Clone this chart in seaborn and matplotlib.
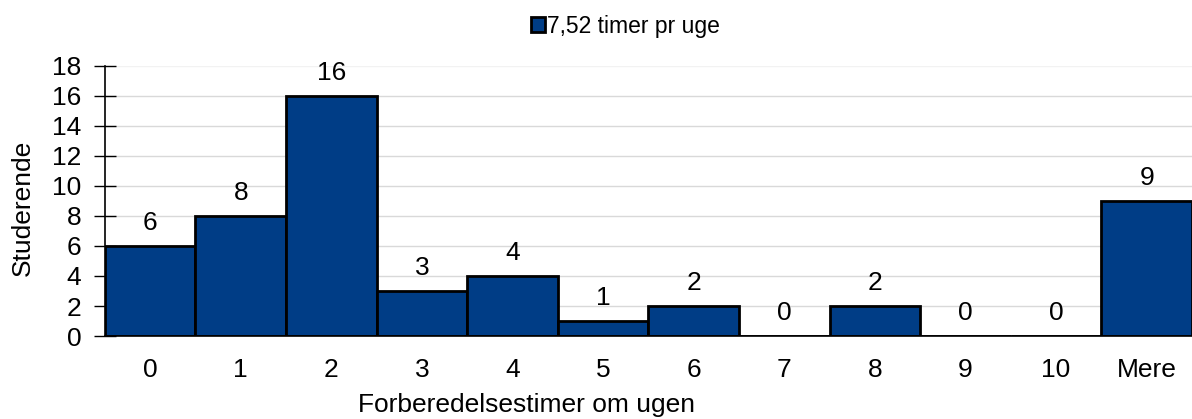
import numpy as np
import pandas as pd
import matplotlib
matplotlib.use("Agg")
import matplotlib.pyplot as plt
import seaborn as sns

categories = ["0", "1", "2", "3", "4", "5", "6", "7", "8", "9", "10", "Mere"]
students = [6, 8, 16, 3, 4, 1, 2, 0, 2, 0, 0, 9]
series_name = "7,52 timer pr uge"
yticks = list(range(0, 20, 2))

df = pd.DataFrame({"timer": categories, "studerende": students})

sns.set_theme(style="white")
plt.rcParams["font.family"] = ["Liberation Sans", "DejaVu Sans"]
plt.rcParams.update({"text.color": "black", "axes.labelcolor": "black",
                     "xtick.color": "black", "ytick.color": "black"})

fig = plt.figure(figsize=(11.92, 4.19), dpi=100)
ax = fig.add_axes([0.088, 0.198, 0.912, 0.645])

sns.barplot(data=df, x="timer", y="studerende", color="#003d86", width=1.0,
            edgecolor="black", linewidth=2, saturation=1, label=series_name, ax=ax)

ax.set_ylim(0, 18)
ax.set_xlim(-0.5, 11.5)
ax.set_yticks(yticks)
ax.yaxis.grid(True, color="#d9d9d9", linewidth=1)
ax.get_ygridlines()[-1].set_color("#f2f2f2")  # top line is faint in the original
ax.set_axisbelow(True)

for p, v in zip(ax.patches, students):
    ax.annotate(str(v), (p.get_x() + p.get_width() / 2, v), xytext=(0, 8),
                textcoords="offset points", ha="center", va="bottom", fontsize=19)

for s in ["top", "right"]:
    ax.spines[s].set_visible(False)
ax.spines["left"].set_color("black")
ax.spines["bottom"].set_color("black")
ax.spines["left"].set_linewidth(1.2)
ax.spines["bottom"].set_linewidth(1.2)

ax.tick_params(axis="y", direction="inout", length=16, width=1,
               labelsize=19, pad=9, left=True)
ax.tick_params(axis="x", length=0, labelsize=19, pad=16)

ax.set_xlabel("Forberedelsestimer om ugen", fontsize=19)
ax.set_ylabel("Studerende", fontsize=19)
ax.xaxis.set_label_coords(0.388, -0.21)
ax.yaxis.set_label_coords(-0.064, 0.474)

if ax.get_legend():
    ax.get_legend().remove()
handles, labels = ax.get_legend_handles_labels()
fig.legend(handles[:1], labels[:1], loc="upper center", bbox_to_anchor=(0.525, 1.02),
           frameon=False, fontsize=16.5, handlelength=0.6, handleheight=0.6,
           handletextpad=0.1, borderaxespad=0.6)

fig.savefig("out.png", dpi=100)
